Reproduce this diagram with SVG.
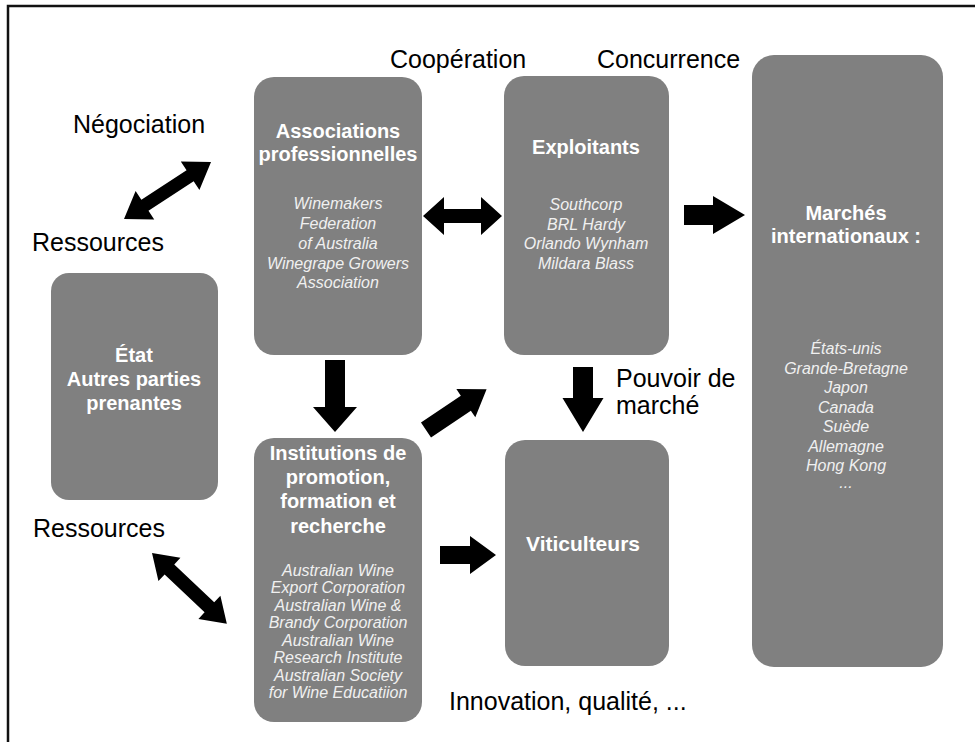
<svg xmlns="http://www.w3.org/2000/svg" width="975" height="742" viewBox="0 0 975 742">
<style>
.box{fill:#808080;}
.t{font-family:"Liberation Sans",Arial,Helvetica,sans-serif;font-weight:bold;font-size:20px;fill:#ffffff;text-anchor:middle;}
.i{font-family:"Liberation Sans",Arial,Helvetica,sans-serif;font-style:italic;font-size:16px;fill:#f0f0f0;text-anchor:middle;}
.lbl{font-family:"Liberation Sans",Arial,Helvetica,sans-serif;font-size:25px;fill:#000000;}
.arr{fill:#000000;}
.frame{stroke:#111111;stroke-width:2.5;fill:none;}
</style>
<rect width="975" height="742" fill="#ffffff"/>
<path class="frame" d="M8,742 L8,6 L975,6"/>

<g id="labels">
<text class="lbl" x="390" y="68">Coopération</text>
<text class="lbl" x="597" y="68">Concurrence</text>
<text class="lbl" x="73" y="133">Négociation</text>
<text class="lbl" x="32" y="251">Ressources</text>
<text class="lbl" x="33" y="537">Ressources</text>
<text class="lbl" x="616" y="387">Pouvoir de</text>
<text class="lbl" x="616" y="414">marché</text>
<text class="lbl" x="449" y="710">Innovation, qualité, ...</text>
</g>

<g id="node-associations">
<rect class="box" x="254" y="77" width="168" height="278" rx="20"/>
<text class="t" x="338" y="138">Associations</text>
<text class="t" x="338" y="161">professionnelles</text>
<text class="i" x="338" y="209">Winemakers</text>
<text class="i" x="338" y="229">Federation</text>
<text class="i" x="338" y="249">of Australia</text>
<text class="i" x="338" y="269">Winegrape Growers</text>
<text class="i" x="338" y="288">Association</text>
</g>

<g id="node-exploitants">
<rect class="box" x="504" y="76" width="165" height="279" rx="20"/>
<text class="t" x="586" y="154">Exploitants</text>
<text class="i" x="586" y="210">Southcorp</text>
<text class="i" x="586" y="229.5">BRL Hardy</text>
<text class="i" x="586" y="249">Orlando Wynham</text>
<text class="i" x="586" y="268.5">Mildara Blass</text>
</g>

<g id="node-marches">
<rect class="box" x="752" y="55" width="191" height="612" rx="22"/>
<text class="t" x="846" y="220">Marchés</text>
<text class="t" x="846" y="243">internationaux :</text>
<text class="i" x="846" y="354">États-unis</text>
<text class="i" x="846" y="373.5">Grande-Bretagne</text>
<text class="i" x="846" y="393">Japon</text>
<text class="i" x="846" y="412.5">Canada</text>
<text class="i" x="846" y="432">Suède</text>
<text class="i" x="846" y="451.5">Allemagne</text>
<text class="i" x="846" y="471">Hong Kong</text>
<text class="i" x="846" y="488">...</text>
</g>

<g id="node-etat">
<rect class="box" x="51" y="273" width="167" height="227" rx="18"/>
<text class="t" x="134" y="362">État</text>
<text class="t" x="134" y="386">Autres parties</text>
<text class="t" x="134" y="410">prenantes</text>
</g>

<g id="node-institutions">
<rect class="box" x="254" y="438" width="168" height="284" rx="20"/>
<text class="t" x="338" y="460">Institutions de</text>
<text class="t" x="338" y="484">promotion,</text>
<text class="t" x="338" y="508">formation et</text>
<text class="t" x="338" y="533">recherche</text>
<text class="i" x="338" y="575.5">Australian Wine</text>
<text class="i" x="338" y="593">Export Corporation</text>
<text class="i" x="338" y="610.5">Australian Wine &amp;</text>
<text class="i" x="338" y="628">Brandy Corporation</text>
<text class="i" x="338" y="645.5">Australian Wine</text>
<text class="i" x="338" y="663">Research Institute</text>
<text class="i" x="338" y="680.5">Australian Society</text>
<text class="i" x="338" y="698">for Wine Educatiion</text>
</g>

<g id="node-viticulteurs">
<rect class="box" x="505" y="440" width="164" height="226" rx="20"/>
<text class="t" x="583" y="551" style="font-size:21px">Viticulteurs</text>
</g>

<g id="connectors">
<polygon class="arr" transform="translate(124,219) rotate(-33.2)" points="0,0 25,-17 25,-6.5 79,-6.5 79,-17 104,0 79,17 79,6.5 25,6.5 25,17"/>
<polygon class="arr" transform="translate(423,216)" points="0,0 21,-19 21,-7 58,-7 58,-19 79,0 58,19 58,7 21,7 21,19"/>
<polygon class="arr" transform="translate(684,215)" points="0,-10 29,-10 29,-19 61,0 29,19 29,10 0,10"/>
<polygon class="arr" transform="translate(335,360) rotate(90)" points="0,-10 47,-10 47,-22 72,0 47,22 47,10 0,10"/>
<polygon class="arr" transform="translate(426,430) rotate(-33.9)" points="0,-9 48,-9 48,-17 73,0 48,17 48,9 0,9"/>
<polygon class="arr" transform="translate(583,367) rotate(90)" points="0,-10 31,-10 31,-20.5 65,0 31,20.5 31,10 0,10"/>
<polygon class="arr" transform="translate(440,555)" points="0,-9 30,-9 30,-19 56,0 30,19 30,9 0,9"/>
<polygon class="arr" transform="translate(152,553) rotate(43.4)" points="0,0 24,-16 24,-7 79,-7 79,-16 103,0 79,16 79,7 24,7 24,16"/>
</g>
</svg>
